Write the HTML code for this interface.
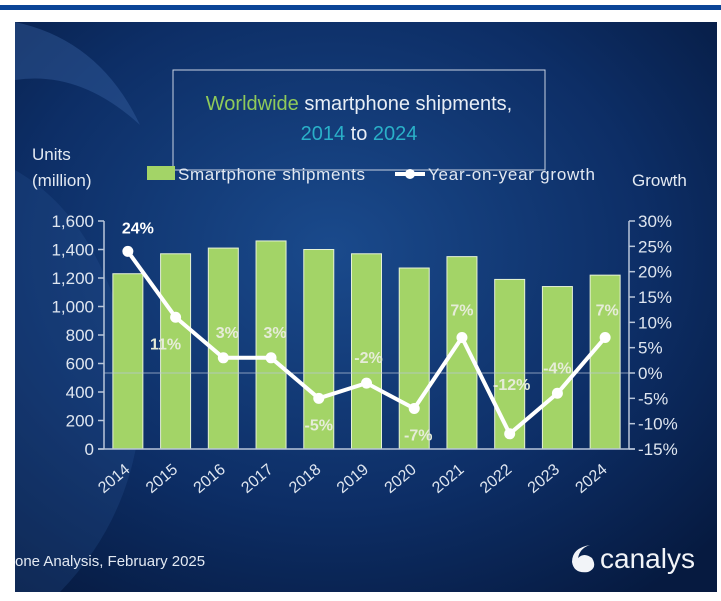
<!DOCTYPE html>
<html><head><meta charset="utf-8"><style>
html,body{margin:0;padding:0;background:#fff;}
body{width:721px;height:601px;position:relative;overflow:hidden;font-family:"Liberation Sans",sans-serif;}
</style></head><body>
<div style="position:absolute;left:0;top:5px;width:721px;height:5px;background:#0b4597;"></div>
<svg id="chart" width="721" height="601" style="position:absolute;left:0;top:0" xmlns="http://www.w3.org/2000/svg">
<defs>
<radialGradient id="bg" cx="0.45" cy="0.4" r="0.75">
<stop offset="0" stop-color="#1a4a8c"/><stop offset="0.6" stop-color="#0d2e66"/><stop offset="1" stop-color="#061a40"/>
</radialGradient>
</defs>
<rect x="15" y="22" width="702" height="570" fill="url(#bg)"/>
<path d="M15,22 Q100,40 140,125 Q80,70 15,80 Z" fill="#3a64a4" opacity="0.4"/>
<path d="M15,170 Q120,230 140,420 Q130,520 60,592 L15,592 Z" fill="#2c5898" opacity="0.25"/>
<rect x="173" y="70" width="372" height="100" fill="none" stroke="#c8d2e2" stroke-width="1"/>
<text x="359" y="110" text-anchor="middle" font-size="20" fill="#e8eef6"><tspan fill="#8fca5a">Worldwide</tspan> smartphone shipments,</text>
<text x="359" y="140" text-anchor="middle" font-size="20" fill="#e8eef6"><tspan fill="#2ab0c8">2014</tspan> to <tspan fill="#2ab0c8">2024</tspan></text>
<text x="32" y="160" font-size="17" fill="#e3e9f2">Units</text>
<text x="32" y="186" font-size="17" fill="#e3e9f2">(million)</text>
<text x="632" y="186" font-size="17" fill="#e3e9f2">Growth</text>
<g>
<rect x="147" y="166" width="28" height="14" fill="#a3d467"/>
<text x="178" y="180" font-size="17" fill="#e3e9f2" textLength="187">Smartphone shipments</text>
</g>
<g>
<line x1="395" y1="174" x2="425" y2="174" stroke="#fff" stroke-width="4"/>
<circle cx="410" cy="174" r="5" fill="#fff"/>
<text x="428" y="180" font-size="17" fill="#e3e9f2" textLength="167">Year-on-year growth</text>
</g>
<g id="plot"></g>
<text x="15" y="566" font-size="15" fill="#e3e9f2">one Analysis, February 2025</text>
<g>
<path d="M590,545 Q572,548 572,562 Q574,574 588,572 Q598,568 592,558 Q584,552 578,558 Q580,548 590,545 Z" fill="#f2f4f8"/>
<text x="600" y="568" font-size="28" fill="#f2f4f8">canalys</text>
</g>
</svg>
<script>
const years=["2014","2015","2016","2017","2018","2019","2020","2021","2022","2023","2024"];
const shipments=[1230,1370,1410,1460,1400,1370,1270,1350,1190,1140,1220];
const growth=[24,11,3,3,-5,-2,-7,7,-12,-4,7];
const growthLabels=["24%","11%","3%","3%","-5%","-2%","-7%","7%","-12%","-4%","7%"];
const leftTicks=[0,200,400,600,800,1000,1200,1400,1600];
const leftTickLabels=["0","200","400","600","800","1,000","1,200","1,400","1,600"];
const rightTicks=[-15,-10,-5,0,5,10,15,20,25,30];
const rightTickLabels=["-15%","-10%","-5%","0%","5%","10%","15%","20%","25%","30%"];
const labelDx=[10,-10,4,4,0,2,4,0,2,0,2];
const labelDy=[-18,32,-20,-20,32,-20,32,-22,-44,-20,-22];
const NS="http://www.w3.org/2000/svg";
const X0=104,X1=629,YT=221,YB=449;
const band=(X1-X0)/years.length;
const xc=i=>X0+band*(i+0.5);
const yL=v=>YB-(v/1600)*(YB-YT);
const yR=v=>YB-((v+15)/45)*(YB-YT);
const g=document.getElementById('plot');
function mk(tag,attrs,txt){const e=document.createElementNS(NS,tag);for(const k in attrs)e.setAttribute(k,attrs[k]);if(txt!==undefined)e.textContent=txt;g.appendChild(e);return e;}
shipments.forEach((v,i)=>{
 const r=mk('rect',{x:xc(i)-15,y:yL(v),width:30,height:YB-yL(v),fill:'#a3d467',stroke:'#e6f2d6','stroke-width':1});
 
 
});
const zl=mk('line',{x1:X0,x2:X1,y1:yR(0),y2:yR(0),stroke:'#b9c6da','stroke-width':1,opacity:0.7});


const la=mk('line',{x1:X0,x2:X0,y1:YT,y2:YB,stroke:'#b9c6da','stroke-width':1.5});


const ra=mk('line',{x1:X1,x2:X1,y1:YT,y2:YB,stroke:'#b9c6da','stroke-width':1.5});


const xa=mk('line',{x1:X0-6,x2:X1+6,y1:YB,y2:YB,stroke:'#b9c6da','stroke-width':1.5});


leftTicks.forEach((v,i)=>{
 mk('line',{x1:X0-6,x2:X0,y1:yL(v),y2:yL(v),stroke:'#b9c6da','stroke-width':1.5});
 const t=mk('text',{x:X0-10,y:yL(v)+6,'text-anchor':'end','font-size':17,fill:'#dfe6f0'},leftTickLabels[i]);
 
 
});
rightTicks.forEach((v,i)=>{
 mk('line',{x1:X1,x2:X1+6,y1:yR(v),y2:yR(v),stroke:'#b9c6da','stroke-width':1.5});
 const t=mk('text',{x:X1+9,y:yR(v)+6,'font-size':17,fill:'#dfe6f0'},rightTickLabels[i]);
 
 
});
years.forEach((y,i)=>{
 const t=mk('text',{x:xc(i)+3,y:YB+22,'text-anchor':'end','font-size':16,fill:'#dfe6f0',transform:`rotate(-40 ${xc(i)+3} ${YB+22})`},y);
 
 
});
const pl=mk('polyline',{points:growth.map((v,i)=>xc(i)+','+yR(v)).join(' '),fill:'none',stroke:'#fff','stroke-width':4,'stroke-linejoin':'round'});


growth.forEach((v,i)=>{
 const c=mk('circle',{cx:xc(i),cy:yR(v),r:5.5,fill:'#fff'});
 
 
 const t=mk('text',{x:xc(i)+labelDx[i],y:yR(v)+labelDy[i],'text-anchor':'middle','font-size':16,'font-weight':'bold',fill:i===0?'#ffffff':'#e6ecd8'},growthLabels[i]);
 
 
});
</script>
</body></html>
